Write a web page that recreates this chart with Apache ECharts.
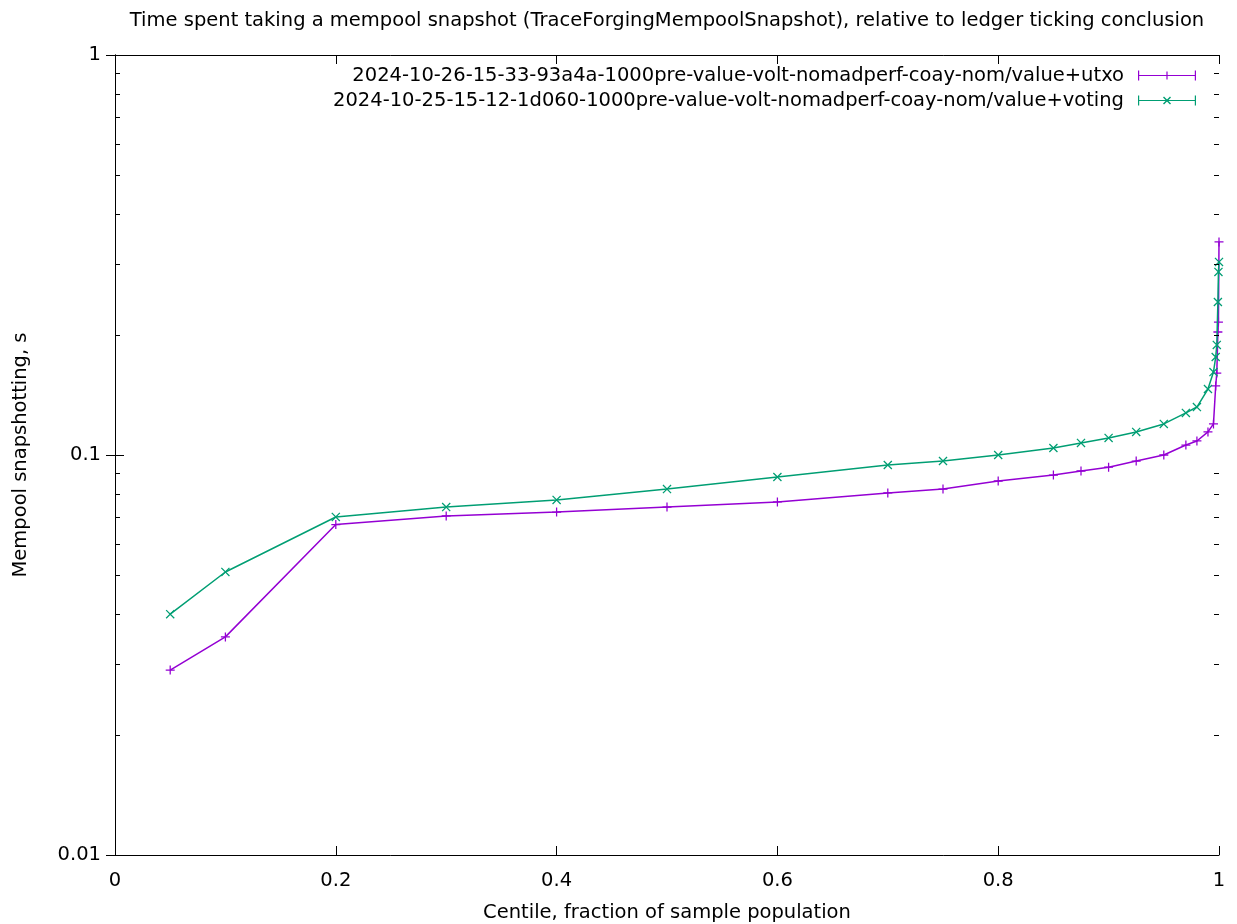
<!DOCTYPE html>
<html>
<head>
<meta charset="utf-8">
<script src="https://cdn.jsdelivr.net/npm/echarts@6/dist/echarts.min.js"></script>
<style>
  html, body { margin: 0; padding: 0; background: #ffffff; }
  #chart { width: 1237px; height: 924px; }
</style>
</head>
<body>
<div id="chart"></div>
<script>
// Centile positions (fraction of sample population)
const centiles = [0.05, 0.1, 0.2, 0.3, 0.4, 0.5, 0.6, 0.7, 0.75, 0.8, 0.85, 0.875,
                  0.9, 0.925, 0.95, 0.97, 0.98, 0.99, 0.995, 0.997, 0.998, 0.999, 0.9995, 1.0];

// Mempool snapshot time, seconds
const utxoSnapshot = [0.0290, 0.0351, 0.0670, 0.0704, 0.0720, 0.0741, 0.0763, 0.0804, 0.0822,
                      0.0861, 0.0891, 0.0912, 0.0932, 0.0966, 0.1000, 0.1059, 0.1084, 0.1142,
                      0.1196, 0.1488, 0.1603, 0.2030, 0.2150, 0.3410];
const votingSnapshot = [0.0400, 0.0510, 0.0700, 0.0741, 0.0772, 0.0822, 0.0881, 0.0944, 0.0966,
                        0.1000, 0.1041, 0.1072, 0.1103, 0.1142, 0.1196, 0.1274, 0.1318, 0.1462,
                        0.1612, 0.1758, 0.1884, 0.2413, 0.2868, 0.3039];

const seriesNames = [
  '2024-10-26-15-33-93a4a-1000pre-value-volt-nomadperf-coay-nom/value+utxo',
  '2024-10-25-15-12-1d060-1000pre-value-volt-nomadperf-coay-nom/value+voting'
];

// Axis ranges and tick values
const xRange = [0, 1];
const xTickStep = 0.2;
const yRange = [0.01, 1];
const yMinorTicks = [0.02, 0.03, 0.04, 0.05, 0.06, 0.07, 0.08, 0.09,
                     0.2, 0.3, 0.4, 0.5, 0.6, 0.7, 0.8, 0.9];

const PURPLE = '#9400d3';
const GREEN = '#009e73';
const FONT = 'DejaVu Sans';
const FONT_SIZE = 19.5;
const MINOR_TICK_LEN = 5;

// Point glyphs: a plus and a diagonal cross
const plusPath = 'path://M4.3,0 h1.4 v10 h-1.4 z M0,4.3 h10 v1.4 h-10 z';
const crossPath = 'path://M0,1 L1,0 L10,9 L9,10 Z M0,9 L9,0 L10,1 L1,10 Z';

// Legend samples: line with end caps and the point glyph in the middle
const legendPlus = 'path://M0,4.4 h58 v1.2 h-58 z M0,0 h1.2 v10 h-1.2 z M56.8,0 h1.2 v10 h-1.2 z M28.4,1 h1.2 v8 h-1.2 z';
const legendCross = 'path://M0,4.4 h58 v1.2 h-58 z M0,0 h1.2 v10 h-1.2 z M56.8,0 h1.2 v10 h-1.2 z ' +
                    'M25,2 L26,1 L33,8 L32,9 Z M25,8 L32,1 L33,2 L26,9 Z';

const chart = echarts.init(document.getElementById('chart'), null, { renderer: 'canvas' });

const axisLineStyle = { color: '#000', width: 1 };

const option = {
  backgroundColor: '#ffffff',
  animation: false,
  textStyle: { fontFamily: FONT },
  title: {
    text: 'Time spent taking a mempool snapshot (TraceForgingMempoolSnapshot), relative to ledger ticking conclusion',
    left: 662,
    textAlign: 'center',
    top: 6,
    textStyle: { fontFamily: FONT, fontSize: FONT_SIZE, fontWeight: 'normal', color: '#000' }
  },
  grid: { left: 115, right: 18, top: 55, bottom: 69, containLabel: false, outerBoundsMode: 'none' },
  legend: {
    orient: 'vertical',
    right: 41,
    top: 65.5,
    padding: 0,
    align: 'right',
    itemWidth: 58,
    itemHeight: 10,
    itemGap: 5,
    selectedMode: false,
    textStyle: { fontFamily: FONT, fontSize: FONT_SIZE, color: '#000', lineHeight: 19, padding: [0, 9, 0, 0] },
    data: [
      { name: seriesNames[0], icon: legendPlus, itemStyle: { color: PURPLE, borderWidth: 0 } },
      { name: seriesNames[1], icon: legendCross, itemStyle: { color: GREEN, borderWidth: 0 } }
    ]
  },
  xAxis: [
    {
      type: 'value',
      min: xRange[0], max: xRange[1], interval: xTickStep,
      position: 'bottom',
      name: 'Centile, fraction of sample population',
      nameLocation: 'middle',
      nameGap: 48,
      nameTextStyle: { fontFamily: FONT, fontSize: FONT_SIZE, color: '#000' },
      axisLine: { show: true, lineStyle: axisLineStyle },
      axisTick: { show: true, inside: true, length: 9, lineStyle: axisLineStyle },
      axisLabel: { fontFamily: FONT, fontSize: FONT_SIZE, color: '#000', margin: 16, showMinLabel: true, showMaxLabel: true },
      splitLine: { show: false }
    },
    {
      type: 'value',
      min: xRange[0], max: xRange[1], interval: xTickStep,
      position: 'top',
      axisLine: { show: true, lineStyle: axisLineStyle },
      axisTick: { show: true, inside: true, length: 9, lineStyle: axisLineStyle },
      axisLabel: { show: false },
      splitLine: { show: false }
    }
  ],
  yAxis: [
    {
      type: 'log',
      logBase: 10,
      min: yRange[0], max: yRange[1],
      position: 'left',
      name: 'Mempool snapshotting, s',
      nameLocation: 'middle',
      nameGap: 84,
      nameTextStyle: { fontFamily: FONT, fontSize: FONT_SIZE, color: '#000' },
      axisLine: { show: true, lineStyle: axisLineStyle },
      axisTick: { show: true, inside: true, length: 9, lineStyle: axisLineStyle },
      axisLabel: { fontFamily: FONT, fontSize: FONT_SIZE, color: '#000', margin: 14 },
      splitLine: { show: false }
    },
    {
      type: 'log',
      logBase: 10,
      min: yRange[0], max: yRange[1],
      position: 'right',
      axisLine: { show: true, lineStyle: axisLineStyle },
      axisTick: { show: true, inside: true, length: 9, lineStyle: axisLineStyle },
      axisLabel: { show: false },
      splitLine: { show: false }
    }
  ],
  series: [
    {
      name: seriesNames[0],
      type: 'line',
      xAxisIndex: 0, yAxisIndex: 0,
      data: centiles.map((c, i) => [c, utxoSnapshot[i]]),
      symbol: plusPath,
      symbolSize: 9,
      showAllSymbol: true,
      color: PURPLE,
      lineStyle: { color: PURPLE, width: 1.5 },
      itemStyle: { color: PURPLE, borderWidth: 0 },
      z: 3
    },
    {
      name: seriesNames[1],
      type: 'line',
      xAxisIndex: 0, yAxisIndex: 0,
      data: centiles.map((c, i) => [c, votingSnapshot[i]]),
      symbol: crossPath,
      symbolSize: 9,
      showAllSymbol: true,
      color: GREEN,
      lineStyle: { color: GREEN, width: 1.5 },
      itemStyle: { color: GREEN, borderWidth: 0 },
      z: 4
    }
  ]
};

chart.setOption(option);

// Minor log ticks on both vertical borders, drawn as filled 1px bars placed through the axis scales
const minorTickGraphics = [];
yMinorTicks.forEach(v => {
  const pl = chart.convertToPixel({ xAxisIndex: 0, yAxisIndex: 0 }, [xRange[0], v]);
  const pr = chart.convertToPixel({ xAxisIndex: 0, yAxisIndex: 0 }, [xRange[1], v]);
  const y = Math.round(pl[1]);
  const xl = Math.round(pl[0]);
  const xr = Math.round(pr[0]);
  minorTickGraphics.push({
    type: 'rect', silent: true, z: 100, zlevel: 0,
    shape: { x: xl, y: y, width: MINOR_TICK_LEN, height: 1 },
    style: { fill: '#000' }
  });
  minorTickGraphics.push({
    type: 'rect', silent: true, z: 100, zlevel: 0,
    shape: { x: xr - MINOR_TICK_LEN, y: y, width: MINOR_TICK_LEN, height: 1 },
    style: { fill: '#000' }
  });
});
chart.setOption({ graphic: { elements: minorTickGraphics } });
</script>
</body>
</html>
